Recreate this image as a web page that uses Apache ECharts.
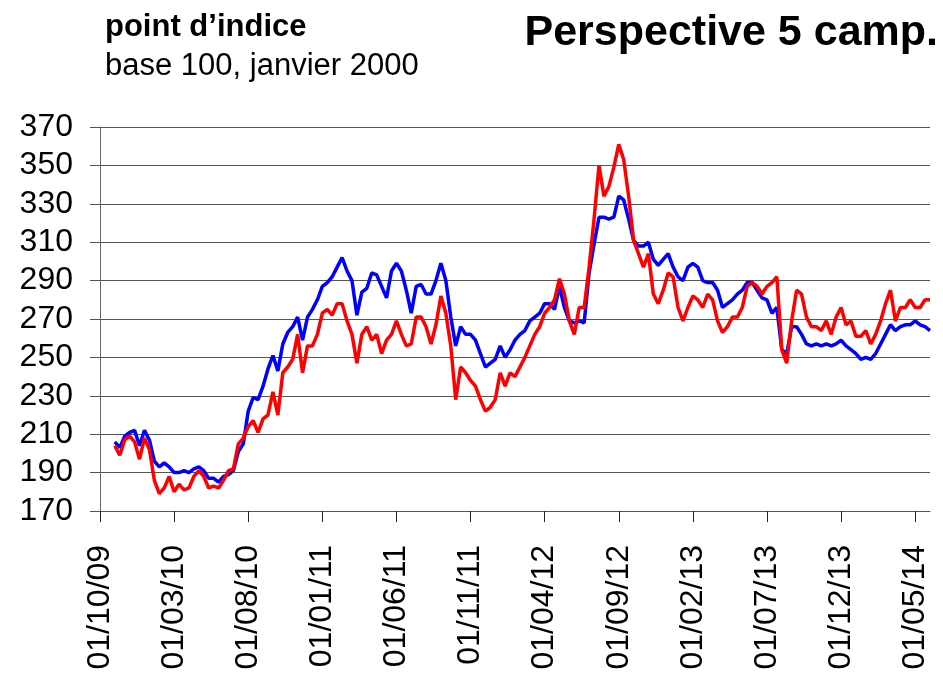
<!DOCTYPE html>
<html>
<head>
<meta charset="utf-8">
<script src="https://cdn.jsdelivr.net/npm/echarts@6/dist/echarts.min.js"></script>
<style>
html,body{margin:0;padding:0;background:#fff;}
#main{width:943px;height:683px;}
</style>
</head>
<body>
<div id="main"></div>
<script>
//dates: 01, 11, 21 of each month, 01/10/09 -> 01/06/14
var jours = ['01', '11', '21'];
var dates = [];
for (var a = 2009, m = 10; a < 2014 || (a == 2014 && m <= 6); m++) {
	if (m > 12) { m = 1; a++; }
	var mm = (m < 10 ? '0' : '') + m, yy = String(a).slice(2);
	for (var j = 0; j < 3; j++) {
		dates.push(jours[j] + '/' + mm + '/' + yy);
		if (a == 2014 && m == 6) break;
	}
}

//tick labels (every 5 months)
var tickLabels = ['01/10/09', '01/03/10', '01/08/10', '01/01/11', '01/06/11', '01/11/11',
	'01/04/12', '01/09/12', '01/02/13', '01/07/13', '01/12/13', '01/05/14'];

//blue series
var bleu = [null, null, null,
	206, 203, 209, 211, 212, 204, 212, 207, 196, 193, 195, 193, 190, 190, 191, 190, 192, 193,
	191, 187, 187, 185, 188, 189, 191, 201, 205, 222, 229, 228, 235, 244, 251, 243, 257, 263,
	266, 271, 259, 271, 275, 280, 287, 289, 292, 297, 302, 295, 290, 272, 284, 286, 294, 293,
	287, 281, 295, 299, 295, 285, 273, 287, 288, 283, 283, 290, 299, 290, 271, 256, 266, 262,
	262, 259, 252, 245, 247, 249, 256, 250, 254, 259, 262, 264, 269, 271, 273, 278, 278, 275,
	287, 276, 269, 268, 269, 268, 294, 309, 323, 323, 322, 323, 334, 332, 322, 311, 308, 308,
	310, 301, 298, 301, 304, 297, 292, 290, 297, 299, 297, 290, 289, 289, 285, 276, 278, 280,
	283, 285, 289, 289, 285, 281, 280, 273, 276, 254, 252, 266, 266, 262, 257, 256, 257, 256,
	257, 256, 257, 259, 256, 254, 252, 249, 250, 249, 252, 257, 262, 267, 264, 266, 267, 267,
	269, 267, 266, 264];

//red series
var rouge = [null, null, null,
	204, 199, 207, 209, 206, 197, 208, 202, 186, 179, 182, 188, 180, 184, 181, 182, 188, 191,
	188, 182, 183, 182, 186, 191, 192, 205, 208, 214, 217, 211, 218, 220, 232, 220, 242, 245,
	249, 262, 242, 256, 256, 262, 273, 275, 272, 278, 278, 269, 262, 247, 262, 266, 259, 262,
	252, 259, 262, 269, 262, 256, 257, 271, 271, 266, 257, 267, 282, 273, 256, 228, 245, 242,
	238, 235, 228, 222, 224, 228, 242, 235, 242, 240, 245, 250, 256, 262, 266, 273, 276, 280,
	291, 283, 269, 262, 276, 276, 297, 322, 350, 334, 339, 349, 361, 353, 334, 311, 304, 297,
	304, 283, 278, 285, 294, 292, 276, 269, 276, 282, 280, 276, 283, 280, 269, 263, 266, 271,
	271, 276, 287, 289, 287, 283, 287, 289, 292, 254, 247, 269, 285, 283, 271, 266, 266, 264,
	269, 262, 271, 276, 267, 269, 261, 261, 264, 257, 262, 269, 278, 285, 269, 276, 276, 280,
	276, 276, 280, 280];

var police = 'Liberation Sans, Arial, sans-serif';
var myChart = echarts.init(document.getElementById('main'));

var option = {
	backgroundColor: '#fff',
	animation: false,
	title: [
		{text: 'point d’indice', left: 105, top: 12, padding: 0,
			textStyle: {fontFamily: police, fontSize: 31, fontWeight: 'bold', color: '#000'}},
		{text: 'base 100, janvier 2000', left: 105, top: 51, padding: 0,
			textStyle: {fontFamily: police, fontSize: 31, fontWeight: 'normal', color: '#000'}},
		{text: 'Perspective 5 camp.', right: 5, top: 12, padding: 0,
			textStyle: {fontFamily: police, fontSize: 43, fontWeight: 'bold', color: '#000'}}
	],
	grid: {left: 100, right: 13, top: 127, bottom: 172, containLabel: false},
	xAxis: {
		type: 'category',
		boundaryGap: false,
		data: dates,
		axisLine: {lineStyle: {color: '#555', width: 1}},
		axisTick: {interval: 14, length: 11, lineStyle: {color: '#222'}},
		axisLabel: {
			interval: 14, rotate: 90, margin: 34,
			fontFamily: police, fontSize: 32, color: '#000',
			formatter: function (v) { return tickLabels.indexOf(v) >= 0 ? v : ''; }
		},
		splitLine: {show: false}
	},
	yAxis: {
		type: 'value',
		min: 170, max: 370, interval: 20,
		axisLine: {show: true, lineStyle: {color: '#666', width: 1}},
		axisTick: {show: true, length: 10, lineStyle: {color: '#555'}},
		axisLabel: {margin: 27, fontFamily: police, fontSize: 32, color: '#000'},
		splitLine: {show: true, lineStyle: {color: '#555', width: 1}}
	},
	series: [
		{name: 'bleu', type: 'line', data: bleu, showSymbol: false, connectNulls: false,
			lineStyle: {color: '#0000ff', width: 3.5}, itemStyle: {color: '#0000ff'}},
		{name: 'rouge', type: 'line', data: rouge, showSymbol: false, connectNulls: false,
			lineStyle: {color: '#ff0000', width: 3.5}, itemStyle: {color: '#ff0000'}}
	]
};

myChart.setOption(option);
</script>
</body>
</html>
